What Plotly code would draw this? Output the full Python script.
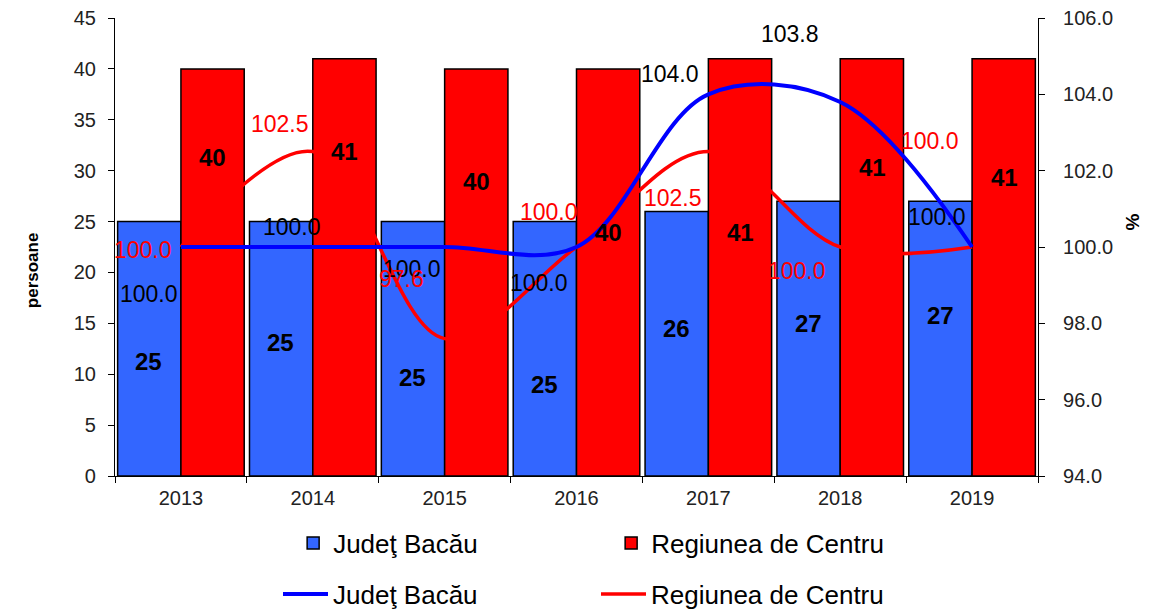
import plotly.graph_objects as go

# Data
years = ["2013", "2014", "2015", "2016", "2017", "2018", "2019"]
bacau_persons = [25, 25, 25, 25, 26, 27, 27]
centru_persons = [40, 41, 40, 40, 41, 41, 41]
bacau_pct = [100.0, 100.0, 100.0, 100.0, 104.0, 103.8, 100.0]
centru_pct = [100.0, 102.5, 97.6, 100.0, 102.5, 100.0, 100.0]

# Label placement (pixel offsets from the anchor point)
bacau_bar_lbl_dy = [-140, -121, -156, -163, -117, -122, -114]
centru_bar_lbl_dy = [-89, -93, -113, -164, -174, -109, -119]
bacau_pct_lbl_shift = [(-32, -47), (-21, 20), (-33, -22), (-38, -36), (-38, 20), (-50, 68), (-35, 30)]
centru_pct_lbl_shift = [(-38, -3), (-33, 28), (-43, 60), (-28, 35), (-35, -46), (-43, -24), (-42, 106)]

BLUE = "#3366FF"
RED = "#FF0000"
LINE_BLUE = "#0000FF"
FONT = "Liberation Sans, Arial, sans-serif"
TICK_FONT = dict(family=FONT, size=20, color="#222222")

fig = go.Figure()

fig.add_trace(go.Bar(
    x=years, y=bacau_persons, name="Judeţ Bacău",
    marker=dict(color=BLUE, line=dict(color="black", width=1.5)),
    legend="legend", hoverinfo="skip",
))
fig.add_trace(go.Bar(
    x=years, y=centru_persons, name="Regiunea de Centru",
    marker=dict(color=RED, line=dict(color="black", width=1.5)),
    legend="legend", hoverinfo="skip",
))
fig.add_trace(go.Scatter(
    x=years, y=centru_pct, name="Regiunea de Centru", yaxis="y2",
    mode="lines", line=dict(color=RED, width=3.5, shape="spline", smoothing=1.0),
    legend="legend2", legendrank=2, hoverinfo="skip",
))
fig.add_trace(go.Scatter(
    x=years, y=bacau_pct, name="Judeţ Bacău", yaxis="y2",
    mode="lines", line=dict(color=LINE_BLUE, width=4, shape="spline", smoothing=1.0),
    legend="legend2", legendrank=1, hoverinfo="skip",
))

annotations = []
# Values inside the bars (x given as the category index)
for i in range(len(years)):
    annotations.append(dict(
        x=i, y=bacau_persons[i], xref="x", yref="y", xshift=-32, yshift=bacau_bar_lbl_dy[i],
        text=str(bacau_persons[i]), showarrow=False,
        font=dict(family=FONT, size=24, color="black", weight="bold"),
    ))
    annotations.append(dict(
        x=i, y=centru_persons[i], xref="x", yref="y", xshift=32, yshift=centru_bar_lbl_dy[i],
        text=str(centru_persons[i]), showarrow=False,
        font=dict(family=FONT, size=24, color="black", weight="bold"),
    ))
# Percent labels for the lines
for i in range(len(years)):
    dx, dy = bacau_pct_lbl_shift[i]
    annotations.append(dict(
        x=i, y=bacau_pct[i], xref="x", yref="y2", xshift=dx, yshift=dy,
        text=f"{bacau_pct[i]:.1f}", showarrow=False,
        font=dict(family=FONT, size=23, color="black"),
    ))
for i in range(len(years)):
    dx, dy = centru_pct_lbl_shift[i]
    annotations.append(dict(
        x=i, y=centru_pct[i], xref="x", yref="y2", xshift=dx, yshift=dy,
        text=f"{centru_pct[i]:.1f}", showarrow=False,
        font=dict(family=FONT, size=23, color=RED),
    ))
# Axis titles
annotations.append(dict(
    x=-0.101, y=0.45, xref="paper", yref="paper", text="<b>persoane</b>",
    textangle=-90, showarrow=False, font=dict(family=FONT, size=17, color="black"),
))
annotations.append(dict(
    x=1.116, y=0.555, xref="paper", yref="paper", text="<b>%</b>",
    textangle=-90, showarrow=False, font=dict(family=FONT, size=19, color="black"),
))

fig.update_layout(
    width=1171, height=610,
    margin=dict(l=115, r=133, t=18, b=134, autoexpand=False),
    paper_bgcolor="white", plot_bgcolor="white",
    barmode="group", bargap=0.04, bargroupgap=0.0,
    font=dict(family=FONT, color="#222222"),
    xaxis=dict(
        type="category", range=[-0.5, len(years) - 0.5],
        showline=True, linecolor="black", linewidth=1.2,
        ticks="outside", ticklen=6, tickcolor="black", tickson="boundaries",
        tickfont=TICK_FONT, ticklabelstandoff=4, showgrid=False, zeroline=False,
    ),
    yaxis=dict(
        range=[0, 45], dtick=5, showline=True, linecolor="black", linewidth=1.2,
        ticks="outside", ticklen=6, tickcolor="black", ticklabelstandoff=8,
        tickfont=TICK_FONT, showgrid=False, zeroline=False,
    ),
    yaxis2=dict(
        range=[94, 106], dtick=2, tickformat=".1f", overlaying="y", side="right",
        showline=True, linecolor="black", linewidth=1.2,
        ticks="outside", ticklen=6, tickcolor="black", ticklabelstandoff=14,
        tickfont=TICK_FONT, showgrid=False, zeroline=False,
    ),
    legend=dict(
        orientation="h", x=0.193, y=-0.095, xanchor="left", yanchor="top",
        itemwidth=30, entrywidth=273, font=dict(size=26, color="black"),
        traceorder="normal", bgcolor="rgba(0,0,0,0)",
    ),
    legend2=dict(
        orientation="h", x=0.1766, y=-0.2066, xanchor="left", yanchor="top",
        itemwidth=45, entrywidth=258, font=dict(size=26, color="black"),
        traceorder="normal", bgcolor="rgba(0,0,0,0)",
    ),
    annotations=annotations,
)

fig.write_html("out.html")
